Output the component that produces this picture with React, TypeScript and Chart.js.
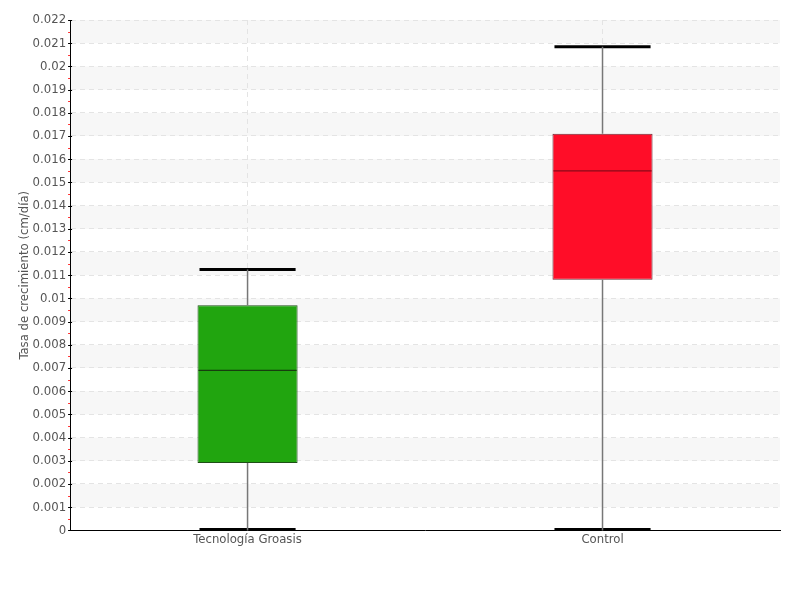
import React, { useEffect, useRef } from 'react';
import { Chart, registerables } from 'chart.js';

Chart.register(...registerables);

const categories = ['Tecnología Groasis', 'Control'];
const minValues = [0, 0];
const q1Values = [0.0029, 0.0108];
const medianValues = [0.0069, 0.0155];
const q3Values = [0.0097, 0.0171];
const maxValues = [0.01125, 0.02085];
const boxColors = ['#21a50f', '#ff0d28'];
const boxBorders = ['#1e4f16', '#6b2a33'];
const medianColors = ['#173d0f', '#8a0a18'];
const yMin = 0;
const yMax = 0.022;
const yStep = 0.001;

const FONT = "'Liberation Sans Narrow', 'DejaVu Sans Condensed', 'Roboto Condensed', 'DejaVu Sans', sans-serif";

const boxPlugin = {
  id: 'boxPlugin',
  beforeDraw(chart: any) {
    const { ctx, chartArea, scales } = chart;
    const y = scales.y;
    ctx.save();
    ctx.fillStyle = '#f7f7f7';
    const n = Math.round((yMax - yMin) / yStep);
    for (let i = 1; i < n; i += 2) {
      const a = y.getPixelForValue(yMin + i * yStep);
      const b = y.getPixelForValue(yMin + (i + 1) * yStep);
      ctx.fillRect(chartArea.left, b, chartArea.right - chartArea.left, a - b);
    }
    ctx.restore();
  },
  afterDatasetsDraw(chart: any) {
    const { ctx, scales } = chart;
    const x = scales.x;
    const y = scales.y;
    const meta = chart.getDatasetMeta(0);
    ctx.save();
    categories.forEach((_, i) => {
      const cx = x.getPixelForValue(i);
      const half = meta.data[i].width / 2;
      const capHalf = half - 2;
      const yMaxP = y.getPixelForValue(maxValues[i]);
      const yMinP = y.getPixelForValue(minValues[i]);
      const yQ1 = y.getPixelForValue(q1Values[i]);
      const yQ3 = y.getPixelForValue(q3Values[i]);
      const yMed = y.getPixelForValue(medianValues[i]);
      ctx.strokeStyle = '#000';
      ctx.lineWidth = 3;
      ctx.beginPath();
      ctx.moveTo(cx - capHalf, yMaxP);
      ctx.lineTo(cx + capHalf, yMaxP);
      ctx.moveTo(cx - capHalf, yMinP - 1);
      ctx.lineTo(cx + capHalf, yMinP - 1);
      ctx.stroke();
      ctx.strokeStyle = '#777';
      ctx.lineWidth = 1.5;
      ctx.beginPath();
      ctx.moveTo(cx, yMaxP);
      ctx.lineTo(cx, yQ3);
      ctx.moveTo(cx, yQ1);
      ctx.lineTo(cx, yMinP);
      ctx.stroke();
      ctx.strokeStyle = medianColors[i];
      ctx.lineWidth = 1.2;
      ctx.beginPath();
      ctx.moveTo(cx - half + 1, yMed);
      ctx.lineTo(cx + half - 1, yMed);
      ctx.stroke();
    });
    ctx.restore();
  },
  afterDraw(chart: any) {
    const { ctx, chartArea, scales } = chart;
    const y = scales.y;
    const left = chartArea.left;
    ctx.save();
    const n = Math.round((yMax - yMin) / yStep);
    for (let i = 0; i <= n; i++) {
      const p = Math.round(y.getPixelForValue(yMin + i * yStep)) + 0.5;
      ctx.strokeStyle = '#000';
      ctx.lineWidth = 1;
      ctx.beginPath();
      ctx.moveTo(left - 2, p);
      ctx.lineTo(left + 2, p);
      ctx.stroke();
      if (i < n) {
        const m = Math.round(y.getPixelForValue(yMin + (i + 0.5) * yStep)) + 0.5;
        ctx.strokeStyle = '#ff3030';
        ctx.beginPath();
        ctx.moveTo(left - 2, m);
        ctx.lineTo(left, m);
        ctx.stroke();
      }
    }
    ctx.restore();
  },
};

export default function App() {
  const ref = useRef<HTMLCanvasElement>(null);
  useEffect(() => {
    if (!ref.current) return;
    const chart = new Chart(ref.current, {
      type: 'bar',
      data: {
        labels: categories,
        datasets: [
          {
            data: categories.map((_, i) => [q1Values[i], q3Values[i]]) as any,
            backgroundColor: boxColors,
            borderColor: boxBorders,
            borderWidth: 1,
            borderSkipped: false,
            categoryPercentage: 1,
            barPercentage: 0.282,
          },
        ],
      },
      options: {
        animation: false,
        responsive: false,
        maintainAspectRatio: false,
        layout: { padding: { top: 20, right: 20, left: 13, bottom: 52 } },
        plugins: { legend: { display: false }, tooltip: { enabled: false } },
        scales: {
          x: {
            offset: true,
            grid: { offset: false, color: '#e4e4e4', drawTicks: false },
            border: { color: '#000', width: 1, dash: [5, 4] },
            ticks: { color: '#555', font: { family: FONT, size: 13 }, padding: 1 },
          },
          y: {
            min: yMin,
            max: yMax,
            grid: { color: '#e4e4e4', drawTicks: false },
            border: { color: '#000', width: 1, dash: [5, 4] },
            ticks: {
              stepSize: yStep,
              autoSkip: false,
              color: '#555',
              padding: 4,
              font: { family: FONT, size: 13 },
              callback: (v: any) => String(parseFloat(Number(v).toFixed(4))),
            },
            title: {
              display: true,
              text: 'Tasa de crecimiento (cm/día)',
              color: '#555',
              font: { family: FONT, size: 13 },
              padding: { top: 4, bottom: -4 },
            },
          },
        },
      },
      plugins: [boxPlugin],
    });
    return () => chart.destroy();
  }, []);
  return (
    <div style={{ position: 'fixed', left: 0, top: 0, width: 800, height: 600, background: '#fff' }}>
      <canvas ref={ref} width={800} height={600} />
    </div>
  );
}
